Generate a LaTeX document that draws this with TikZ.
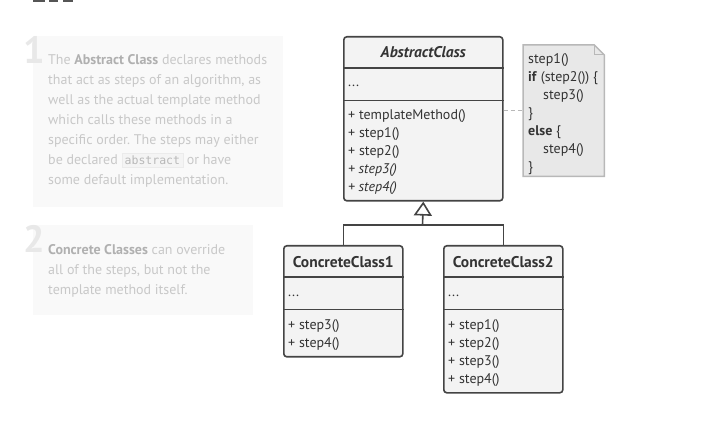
\documentclass[tikz,border=0pt]{standalone}
\usepackage{fontspec}
\setmainfont{PT Sans}
\setmonofont{DejaVu Sans Mono}
\usetikzlibrary{arrows.meta,positioning}
\frenchspacing

\definecolor{boxline}{HTML}{444444}
\definecolor{boxfill}{HTML}{F3F3F3}
\definecolor{boxtext}{HTML}{333333}
\definecolor{notefill}{HTML}{E8E8E8}
\definecolor{noteline}{HTML}{B8B8B8}
\definecolor{panelfill}{HTML}{F9F9F9}
\definecolor{paneltext}{HTML}{C8C8C8}
\definecolor{panelbold}{HTML}{B0B0B0}
\definecolor{panelnum}{HTML}{E8E8E8}
\definecolor{codefill}{HTML}{F4F4F4}
\definecolor{codeline}{HTML}{EBEBEB}
\definecolor{codetext}{HTML}{B8B8B8}
\definecolor{headmark}{HTML}{555555}

\newcommand\boldpart[1]{\textcolor{panelbold}{\textbf{#1}}}
\newcommand\codeword[1]{{\setlength\fboxsep{2.5pt}\setlength\fboxrule{0.6pt}%
  \fcolorbox{codeline}{codefill}{\fontsize{11.5}{12}\ttfamily\color{codetext}#1}}}

\begin{document}
\begin{tikzpicture}[x=1pt,y=-1pt,
  panel/.style={fill=panelfill, inner sep=0pt},
  bignum/.style={text=panelnum, inner sep=0pt, font=\fontsize{38}{38}\selectfont\bfseries},
  panel text/.style={text=paneltext, align=left, inner sep=0pt, font=\fontsize{14}{20}\selectfont},
  classbox/.style={draw=boxline, fill=boxfill, line width=1.6pt, rounded corners=3pt, inner sep=0pt},
  sep/.style={draw=boxline, line width=1.6pt},
  title/.style={text=boxtext, inner sep=0pt, font=\fontsize{15.5}{18}\selectfont\bfseries},
  member/.style={text=boxtext, align=left, inner sep=0pt, font=\fontsize{14}{18}\selectfont},
  notebox/.style={inner sep=0pt},
  link/.style={draw=noteline, line width=1.5pt, dash pattern=on 4pt off 3pt},
  tree/.style={draw=boxline, line width=1.6pt}]

\newcommand\Head{32pt}
\newcommand\Field{64.5pt}

\useasboundingbox (0,0) rectangle (715,446); %% spacing

%% cut-off heading at the top
\fill[headmark] (33,-4) rectangle (45,2.5);
\fill[headmark] (49,-4) rectangle (58,2.5);
\fill[headmark] (63,-4) rectangle (73,2.5);

%% explanations
\node[panel, minimum width=250pt, minimum height=171pt, anchor=north west] (panel1) at (33,36) {};
\node[bignum, anchor=north west] (num1) at (23,36) {1};
\node[panel text, anchor=north west] (text1) at (48,54.5) {The \boldpart{Abstract Class} declares methods\\
that act as steps of an algorithm, as\\
well as the actual template method\\
which calls these methods in a\\
specific order. The steps may either\\
be declared \codeword{abstract} or have\\
some default implementation.};

\node[panel, minimum width=220pt, minimum height=90pt, anchor=north west] (panel2) at (33,225) {};
\node[bignum, anchor=north west] (num2) at (23,225) {2};
\node[panel text, anchor=north west] (text2) at (48,244.5) {\boldpart{Concrete Classes} can override\\
all of the steps, but not the\\
template method itself.};

%% abstract class
\node[classbox, minimum width=159pt, minimum height=164pt, anchor=north west] (ac) at (343,36) {};
\draw[sep] ([yshift=-\Head]ac.north west) -- ([yshift=-\Head]ac.north east);
\draw[sep] ([yshift=-\Field]ac.north west) -- ([yshift=-\Field]ac.north east);
\node[title] (ac-name) at ([yshift=-16pt]ac.north) {\itshape AbstractClass};
\node[member, anchor=west] (ac-fields) at ([xshift=5pt,yshift=-50pt]ac.north west) {...};
\node[member, anchor=north west] (ac-methods) at ([xshift=5pt,yshift=-73.5pt]ac.north west)
{+ templateMethod()\\+ step1()\\+ step2()\\\textit{+ step3()}\\\textit{+ step4()}};

%% note with the template method
\node[notebox, minimum width=81pt, minimum height=131pt, anchor=north west] (note) at (523,45) {};
\draw[noteline, fill=notefill, line width=1.5pt] (note.north west) -- ([xshift=-10pt]note.north east)
  -- ([yshift=-10pt]note.north east) -- (note.south east) -- (note.south west) -- cycle;
\draw[noteline, line width=1pt] ([xshift=-10pt]note.north east) |- ([yshift=-10pt]note.north east);
\node[member, anchor=north west] (note-code) at ([xshift=5pt,yshift=-8pt]note.north west)
{step1()\\\textbf{if} (step2()) \{\\\hspace{15pt}step3()\\\}\\\textbf{else} \{\\\hspace{15pt}step4()\\\}};
\draw[link] (note.west -| ac.east) -- (note.west);

%% concrete classes
\node[classbox, minimum width=119pt, minimum height=111pt, anchor=north west] (cc1) at (283,245) {};
\draw[sep] ([yshift=-\Head]cc1.north west) -- ([yshift=-\Head]cc1.north east);
\draw[sep] ([yshift=-\Field]cc1.north west) -- ([yshift=-\Field]cc1.north east);
\node[title] (cc1-name) at ([yshift=-17pt]cc1.north) {ConcreteClass1};
\node[member, anchor=west] (cc1-fields) at ([xshift=5pt,yshift=-51pt]cc1.north west) {...};
\node[member, anchor=north west] (cc1-methods) at ([xshift=5pt,yshift=-74.5pt]cc1.north west)
{+ step3()\\+ step4()};

\node[classbox, minimum width=119pt, minimum height=147pt, anchor=north west] (cc2) at (443,245) {};
\draw[sep] ([yshift=-\Head]cc2.north west) -- ([yshift=-\Head]cc2.north east);
\draw[sep] ([yshift=-\Field]cc2.north west) -- ([yshift=-\Field]cc2.north east);
\node[title] (cc2-name) at ([yshift=-17pt]cc2.north) {ConcreteClass2};
\node[member, anchor=west] (cc2-fields) at ([xshift=5pt,yshift=-51pt]cc2.north west) {...};
\node[member, anchor=north west] (cc2-methods) at ([xshift=5pt,yshift=-74.5pt]cc2.north west)
{+ step1()\\+ step2()\\+ step3()\\+ step4()};

%% inheritance
\coordinate (fork) at (422.5,225);
\draw[tree] (cc1.north) |- (fork);
\draw[tree] (cc2.north) |- (fork);
\draw[tree, -{Triangle[open, length=14pt, width=18pt]}] (fork) -- (ac.south);

\end{tikzpicture}
\end{document}
